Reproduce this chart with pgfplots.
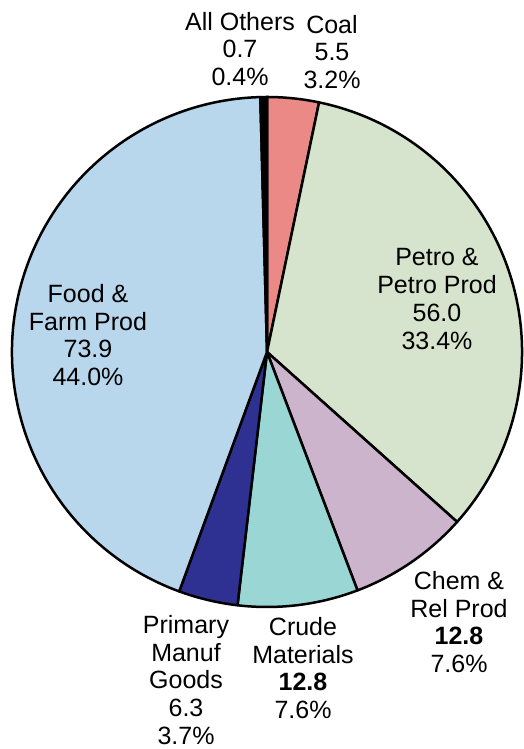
\documentclass[border=0pt]{standalone}
\usepackage{pgfplots}
\usepackage{pgfplotstable}
\pgfplotsset{compat=1.18}
\usepackage{fontspec}
\setmainfont{Liberation Sans}

\definecolor{cCoal}{RGB}{234,137,133}
\definecolor{cPetro}{RGB}{214,228,205}
\definecolor{cChem}{RGB}{204,180,205}
\definecolor{cCrude}{RGB}{153,214,212}
\definecolor{cManuf}{RGB}{46,49,146}
\definecolor{cFood}{RGB}{185,215,236}
\definecolor{cOther}{RGB}{0,0,0}

\pgfplotstableread{
idx value
0 5.5
1 56.0
2 12.8
3 12.8
4 6.3
5 73.9
6 0.7
}\piedata
\pgfplotstablecreatecol[create col/expr accum={\pgfmathaccuma + \thisrow{value}}{0}]{cum}\piedata
\pgfplotstablegetelem{6}{cum}\of\piedata
\let\pietotal\pgfplotsretval

\pgfdeclareplotmark{nothing}{}

\def\pieR{255pt}
\pgfplotsset{
  pie slice/.style 2 args={
    scatter, only marks, mark=nothing,
    point meta=explicit symbolic,
    restrict expr to domain={\coordindex}{#1:#1},
    visualization depends on={\thisrow{cum} \as \cum},
    visualization depends on={\thisrow{value} \as \val},
    scatter/@pre marker code/.code={%
      \pgfmathsetmacro\sa{90-(\cum-\val)*(360/\pietotal)}%
      \pgfmathsetmacro\ea{90-\cum*(360/\pietotal)}%
      \filldraw[fill=#2, draw=black, line width=2.5pt, line join=round]
        (0,0) -- (\sa:\pieR) arc[start angle=\sa, end angle=\ea, radius=\pieR] -- cycle;
    },
    scatter/@post marker code/.code={},
  }
}
\tikzset{lbl/.style={font=\fontsize{25}{27.7}\selectfont, align=center, inner sep=0pt, text=black}}

\begin{document}
\begin{tikzpicture}
\begin{axis}[
  scale only axis, width=523pt, height=749pt,
  xmin=0, xmax=523, ymin=0, ymax=749,
  hide axis, clip=false,
]
\addplot[pie slice={0}{cCoal}]  table[x expr=267, y expr=397, meta=idx] {\piedata};
\addplot[pie slice={1}{cPetro}] table[x expr=267, y expr=397, meta=idx] {\piedata};
\addplot[pie slice={2}{cChem}]  table[x expr=267, y expr=397, meta=idx] {\piedata};
\addplot[pie slice={3}{cCrude}] table[x expr=267, y expr=397, meta=idx] {\piedata};
\addplot[pie slice={4}{cManuf}] table[x expr=267, y expr=397, meta=idx] {\piedata};
\addplot[pie slice={5}{cFood}]  table[x expr=267, y expr=397, meta=idx] {\piedata};
\addplot[pie slice={6}{cOther}] table[x expr=267, y expr=397, meta=idx] {\piedata};

\coordinate (lOther) at (axis cs:240,700);
\coordinate (lCoal) at (axis cs:332,697);
\coordinate (lPetro) at (axis cs:437,450);
\coordinate (lFood) at (axis cs:88,414);
\coordinate (lChem) at (axis cs:459,127);
\coordinate (lCrude) at (axis cs:303,81);
\coordinate (lManuf) at (axis cs:186,69);
\end{axis}
\node[lbl] at (lOther) {All Others\\0.7\\0.4\%};
\node[lbl] at (lCoal) {Coal\\5.5\\3.2\%};
\node[lbl] at (lPetro) {Petro \&\\Petro Prod\\56.0\\33.4\%};
\node[lbl] at (lFood) {Food \&\\Farm Prod\\73.9\\44.0\%};
\node[lbl] at (lChem) {Chem \&\\Rel Prod\\\textbf{12.8}\\7.6\%};
\node[lbl] at (lCrude) {Crude\\Materials\\\textbf{12.8}\\7.6\%};
\node[lbl] at (lManuf) {Primary\\Manuf\\Goods\\6.3\\3.7\%};
\pgfresetboundingbox
\path (current axis.south west) rectangle (current axis.north east);
\end{tikzpicture}
\end{document}
